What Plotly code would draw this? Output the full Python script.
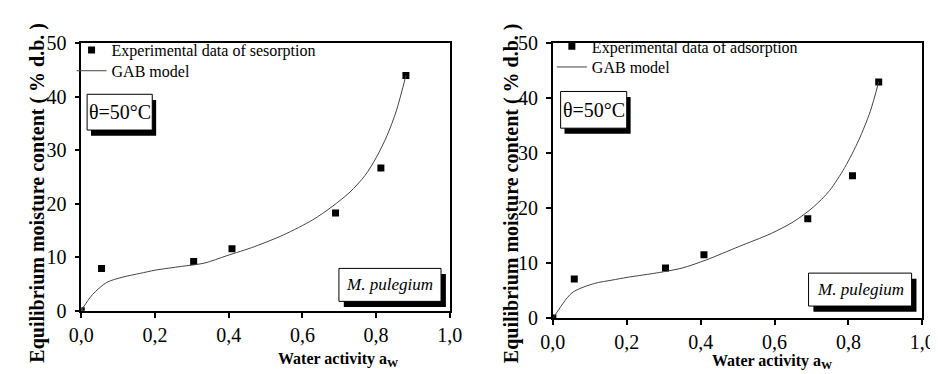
import plotly.graph_objects as go

W, H = 938, 374

# ---------------- data ----------------
des_aw = [0.0, 0.055, 0.305, 0.409, 0.690, 0.813, 0.881]
des_m = [0.0, 7.9, 9.2, 11.6, 18.3, 26.7, 44.0]
gab_des_aw = [0.0, 0.008, 0.03, 0.069, 0.113, 0.16, 0.201, 0.272, 0.333, 0.395, 0.47,
              0.549, 0.628, 0.681, 0.729, 0.77, 0.80, 0.83, 0.855, 0.881]
gab_des_m = [0.0, 0.9, 3.0, 5.3, 6.3, 7.0, 7.6, 8.3, 8.9, 10.3, 12.0,
             14.2, 17.0, 19.5, 22.2, 25.3, 28.6, 32.8, 37.4, 44.0]

ads_aw = [0.0, 0.058, 0.305, 0.409, 0.690, 0.811, 0.882]
ads_m = [0.0, 7.1, 9.1, 11.5, 18.1, 25.9, 43.0]
gab_ads_aw = [0.0, 0.008, 0.052, 0.113, 0.16, 0.201, 0.289, 0.35, 0.416, 0.503,
              0.591, 0.653, 0.705, 0.749, 0.79, 0.828, 0.859, 0.882]
gab_ads_m = [0.0, 0.75, 4.6, 6.3, 6.9, 7.4, 8.3, 9.1, 10.6, 13.0,
             15.4, 17.6, 20.2, 23.2, 27.4, 32.4, 37.6, 43.0]

x_tickvals = [0, 0.2, 0.4, 0.6, 0.8, 1.0]
x_ticktext = ["0,0", "0,2", "0,4", "0,6", "0,8", "1,0"]
y_tickvals = [0, 10, 20, 30, 40, 50]

FONT = "Liberation Serif, Times New Roman, serif"


def px(x):
    return x / W


def py(y):
    return 1 - y / H


fig = go.Figure()

fig.add_trace(go.Scatter(x=des_aw, y=des_m, mode="markers", name="Experimental data of sesorption",
                         marker=dict(symbol="square", size=7, color="black"), showlegend=True,
                         xaxis="x", yaxis="y", legend="legend"))
fig.add_trace(go.Scatter(x=gab_des_aw, y=gab_des_m, mode="lines", name="GAB model",
                         line=dict(color="#444444", width=1, shape="spline", smoothing=0.8),
                         showlegend=True, xaxis="x", yaxis="y", legend="legend2"))
fig.add_trace(go.Scatter(x=ads_aw, y=ads_m, mode="markers", name="Experimental data of adsorption",
                         marker=dict(symbol="square", size=7, color="black"), showlegend=True,
                         xaxis="x2", yaxis="y2", legend="legend3"))
fig.add_trace(go.Scatter(x=gab_ads_aw, y=gab_ads_m, mode="lines", name="GAB model",
                         line=dict(color="#444444", width=1, shape="spline", smoothing=0.8),
                         showlegend=True, xaxis="x2", yaxis="y2", legend="legend4"))

axis_common = dict(showline=True, mirror=True, linecolor="black", linewidth=1.5,
                   ticks="outside", ticklen=5, tickwidth=1.5, tickcolor="black",
                   showgrid=False, zeroline=False,
                   tickfont=dict(family=FONT, size=20, color="black"))

leg_common = dict(xanchor="left", yanchor="top", bgcolor="rgba(0,0,0,0)", visible=True,
                  font=dict(family=FONT, size=16, color="black"))

fig.update_layout(
    width=W, height=H,
    margin=dict(l=0, r=0, t=0, b=0),
    paper_bgcolor="white", plot_bgcolor="white",
    showlegend=True,
    font=dict(family=FONT, color="black"),
    xaxis=dict(domain=[px(62), px(441)], range=[0, 1], tickvals=x_tickvals, ticktext=x_ticktext,
               anchor="y", **axis_common),
    yaxis=dict(domain=[py(310), py(26)], range=[0, 50], tickvals=y_tickvals, anchor="x",
               ticklabelstandoff=4, **axis_common),
    xaxis2=dict(domain=[px(547), px(927)], range=[0, 1], tickvals=x_tickvals, ticktext=x_ticktext,
                anchor="y2", **axis_common),
    yaxis2=dict(domain=[py(317.7), py(26)], range=[0, 50], tickvals=y_tickvals, anchor="x2",
                ticklabelstandoff=4, **axis_common),
    legend=dict(x=px(52), y=py(15), **leg_common),
    legend2=dict(x=px(52), y=py(37), **leg_common),
    legend3=dict(x=px(546), y=py(11), **leg_common),
    legend4=dict(x=px(546), y=py(33), **leg_common),
)

shapes = []
annotations = []


def shadow_box(x0, y0, x1, y1, dx, dy, text, italic=False, size=16):
    shapes.append(dict(type="rect", xref="paper", yref="paper",
                       x0=px(x0 + dx), x1=px(x1 + dx), y0=py(y1 + dy), y1=py(y0 + dy),
                       fillcolor="black", line=dict(width=0)))
    shapes.append(dict(type="rect", xref="paper", yref="paper",
                       x0=px(x0), x1=px(x1), y0=py(y1), y1=py(y0),
                       fillcolor="white", line=dict(color="black", width=1)))
    t = f"<i>{text}</i>" if italic else text
    annotations.append(dict(xref="paper", yref="paper", x=px((x0 + x1) / 2), y=py((y0 + y1) / 2),
                            text=t, showarrow=False, xanchor="center", yanchor="middle",
                            font=dict(family=FONT, size=size, color="black")))


shadow_box(68, 80, 135, 118, 4, 6, "θ=50°C", size=20)
shadow_box(327, 265, 432, 300, 5, 6, "M. pulegium", italic=True, size=17)
shadow_box(555, 77, 623, 116, 4, 6, "θ=50°C", size=20)
shadow_box(810, 270, 916, 305, 5, 6, "M. pulegium", italic=True, size=17)

ytitle = "<b>Equilibrium moisture content ( % d.b. )</b>"
for xc in (17, 504):
    annotations.append(dict(xref="paper", yref="paper", x=px(xc), y=py(185), text=ytitle,
                            textangle=-90, showarrow=False, xanchor="center", yanchor="middle",
                            font=dict(family=FONT, size=20, color="black")))
for xc, yc in ((327, 362), (773, 364)):
    annotations.append(dict(xref="paper", yref="paper", x=px(xc), y=py(yc),
                            text="<b>Water activity a<sub>W</sub></b>",
                            showarrow=False, xanchor="center", yanchor="middle",
                            font=dict(family=FONT, size=16, color="black")))

fig.update_layout(shapes=shapes, annotations=annotations)

fig.write_html("out.html")
